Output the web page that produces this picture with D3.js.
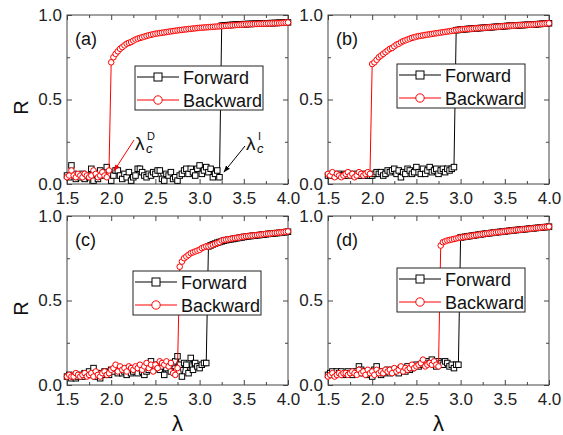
<!DOCTYPE html>
<html>
<head>
<meta charset="utf-8">
<script src="https://cdn.jsdelivr.net/npm/d3@7"></script>
<style>
  body { margin: 0; background: #fff; }
  text { font-family: "Liberation Sans", Arial, sans-serif; }
</style>
</head>
<body>
<div id="vis"></div>
<script>
//sweep of the control parameter lambda (1.5 -> 4.0, 101 samples)
const LAMBDA = d3.range(101).map(i => +(1.5 + 0.025 * i).toFixed(3));

const X_TICKS = [1.5, 2.0, 2.5, 3.0, 3.5, 4.0];
const X_MINOR = [1.75, 2.25, 2.75, 3.25, 3.75];
const Y_TICKS = [0.0, 0.5, 1.0];
const Y_MINOR = [0.25, 0.75];
const SERIES_NAMES = ["Forward", "Backward"];
const PANEL_LABELS = ["(a)", "(b)", "(c)", "(d)"];

//panel (a)
const FWD_A = [0.05,0.04,0.11,0.06,0.03,0.05,0.04,0.06,0.03,0.05,
  0.04,0.09,0.02,0.06,0.03,0.08,0.05,0.07,0.10,0.06,
  0.02,0.05,0.08,0.08,0.05,0.03,0.06,0.04,0.07,0.02,
  0.04,0.05,0.09,0.09,0.07,0.05,0.04,0.06,0.05,0.07,
  0.06,0.08,0.08,0.03,0.02,0.06,0.05,0.07,0.03,0.04,
  0.02,0.05,0.06,0.08,0.09,0.06,0.09,0.07,0.05,0.09,
  0.11,0.06,0.08,0.10,0.07,0.09,0.04,0.06,0.08,0.04,
  0.937,0.938,0.939,0.940,0.941,0.942,0.943,0.944,0.945,0.945,
  0.946,0.946,0.947,0.947,0.948,0.948,0.949,0.949,0.950,0.950,
  0.951,0.951,0.952,0.952,0.953,0.953,0.954,0.954,0.955,0.955,0.956];
const BWD_A = [0.04,0.05,0.08,0.05,0.04,0.06,0.05,0.04,0.06,0.05,
  0.04,0.05,0.08,0.06,0.04,0.05,0.07,0.05,0.04,0.08,
  0.72,0.75,0.77,0.785,0.80,0.81,0.82,0.83,0.835,0.84,
  0.848,0.855,0.86,0.864,0.868,0.872,0.876,0.88,0.883,0.886,
  0.889,0.891,0.893,0.895,0.897,0.899,0.901,0.903,0.905,0.907,
  0.909,0.911,0.912,0.914,0.915,0.917,0.918,0.920,0.921,0.923,
  0.924,0.925,0.926,0.927,0.928,0.929,0.930,0.931,0.932,0.933,
  0.934,0.935,0.936,0.937,0.938,0.939,0.940,0.941,0.942,0.943,
  0.944,0.945,0.945,0.946,0.946,0.947,0.947,0.948,0.948,0.949,
  0.949,0.950,0.950,0.951,0.951,0.952,0.952,0.953,0.954,0.955,0.956];

//panel (b)
const FWD_B = [0.05,0.05,0.06,0.05,0.05,0.06,0.05,0.05,0.06,0.05,
  0.06,0.05,0.05,0.06,0.05,0.05,0.06,0.05,0.05,0.05,
  0.05,0.06,0.07,0.06,0.07,0.05,0.06,0.08,0.07,0.08,
  0.09,0.06,0.08,0.04,0.07,0.06,0.09,0.08,0.06,0.07,
  0.10,0.07,0.06,0.09,0.06,0.08,0.10,0.07,0.08,0.09,
  0.06,0.08,0.09,0.07,0.09,0.08,0.09,0.10,
  0.910,0.912,0.914,0.915,0.916,0.917,0.918,0.919,0.920,0.921,
  0.922,0.923,0.924,0.925,0.926,0.927,0.928,0.929,0.930,0.931,
  0.932,0.933,0.934,0.935,0.936,0.937,0.937,0.938,0.939,0.940,
  0.940,0.941,0.942,0.943,0.943,0.944,0.945,0.946,0.947,0.948,
  0.949,0.950,0.951];
const BWD_B = [0.06,0.05,0.07,0.04,0.06,0.05,0.04,0.05,0.06,0.07,
  0.05,0.06,0.04,0.05,0.07,0.06,0.05,0.06,0.07,0.06,
  0.71,0.72,0.735,0.75,0.76,0.77,0.78,0.79,0.80,0.805,
  0.815,0.825,0.83,0.838,0.845,0.85,0.855,0.86,0.865,0.868,
  0.872,0.875,0.877,0.879,0.882,0.884,0.886,0.888,0.890,0.892,
  0.894,0.896,0.898,0.900,0.902,0.904,0.906,0.908,0.910,0.912,
  0.914,0.915,0.916,0.917,0.918,0.919,0.920,0.921,0.922,0.923,
  0.924,0.925,0.926,0.927,0.928,0.929,0.930,0.931,0.932,0.933,
  0.934,0.935,0.936,0.937,0.937,0.938,0.939,0.940,0.940,0.941,
  0.942,0.943,0.943,0.944,0.945,0.946,0.947,0.948,0.949,0.950,0.951];

//panel (c)
const FWD_C = [0.05,0.06,0.04,0.05,0.04,0.05,0.06,0.05,0.07,0.06,
  0.08,0.06,0.10,0.05,0.07,0.04,0.06,0.08,0.07,0.06,
  0.09,0.08,0.10,0.07,0.09,0.07,0.08,0.06,0.10,0.07,
  0.08,0.09,0.07,0.10,0.08,0.06,0.08,0.09,0.14,0.11,
  0.10,0.12,0.09,0.11,0.06,0.10,0.12,0.08,0.13,0.14,
  0.17,0.12,0.05,0.13,0.12,0.07,0.16,0.09,0.13,0.11,
  0.10,0.12,0.13,0.13,
  0.820,0.826,0.832,0.837,0.842,0.846,0.850,0.854,0.857,0.860,
  0.862,0.864,0.867,0.869,0.871,0.873,0.876,0.878,0.880,0.881,
  0.883,0.884,0.886,0.887,0.889,0.890,0.892,0.894,0.895,0.896,
  0.898,0.899,0.900,0.902,0.903,0.905,0.907];
const BWD_C = [0.05,0.06,0.05,0.05,0.07,0.06,0.05,0.06,0.07,0.05,
  0.06,0.07,0.05,0.08,0.06,0.05,0.07,0.08,0.06,0.07,
  0.09,0.10,0.12,0.08,0.11,0.09,0.10,0.08,0.11,0.10,
  0.09,0.11,0.10,0.12,0.09,0.11,0.13,0.10,0.12,0.08,
  0.12,0.10,0.14,0.13,0.12,0.14,0.11,0.13,0.07,0.06,
  0.10,
  0.70,0.73,0.75,0.76,0.77,0.78,0.785,0.79,0.795,0.80,
  0.81,0.815,0.82,0.82,0.825,0.83,0.835,0.84,0.845,0.855,
  0.858,0.860,0.862,0.864,0.867,0.869,0.871,0.873,0.876,0.878,
  0.880,0.881,0.883,0.884,0.886,0.887,0.889,0.890,0.892,0.894,
  0.895,0.896,0.898,0.899,0.900,0.902,0.903,0.905,0.907,0.909];

//panel (d)
const FWD_D = [0.06,0.07,0.08,0.06,0.08,0.07,0.08,0.06,0.07,0.08,
  0.07,0.06,0.08,0.07,0.11,0.09,0.07,0.08,0.06,0.07,
  0.05,0.09,0.11,0.08,0.06,0.07,0.08,0.09,0.07,0.08,
  0.09,0.08,0.07,0.10,0.09,0.08,0.11,0.09,0.10,0.11,
  0.12,0.11,0.12,0.13,0.12,0.14,0.13,0.15,0.12,0.11,
  0.14,0.13,0.12,0.14,0.13,0.11,0.12,0.10,0.12,0.12,
  0.873,0.875,0.877,0.879,0.881,0.883,0.885,0.887,0.889,0.891,
  0.893,0.895,0.897,0.898,0.900,0.902,0.903,0.905,0.906,0.908,
  0.909,0.911,0.912,0.914,0.915,0.917,0.918,0.919,0.921,0.922,
  0.923,0.925,0.926,0.927,0.929,0.930,0.931,0.933,0.934,0.935,0.937];
const BWD_D = [0.05,0.06,0.07,0.05,0.06,0.07,0.06,0.07,0.07,0.06,
  0.07,0.08,0.07,0.06,0.09,0.07,0.08,0.06,0.09,0.07,
  0.08,0.06,0.09,0.07,0.08,0.07,0.09,0.08,0.09,0.07,
  0.10,0.08,0.09,0.11,0.08,0.10,0.09,0.10,0.12,0.10,
  0.11,0.12,0.13,0.15,0.11,0.12,0.13,0.12,0.14,0.12,
  0.11,
  0.825,0.845,0.850,0.855,0.858,0.861,0.864,0.867,0.870,0.873,
  0.875,0.877,0.879,0.881,0.883,0.885,0.887,0.889,0.891,0.893,
  0.895,0.897,0.898,0.900,0.902,0.903,0.905,0.906,0.908,0.909,
  0.911,0.912,0.914,0.915,0.917,0.918,0.919,0.921,0.922,0.923,
  0.925,0.926,0.927,0.929,0.930,0.931,0.933,0.934,0.935,0.937];

//layout
const FRAME_WIDTH = 563;
const FRAME_HEIGHT = 435;
const VIS_WIDTH = 221;
const VIS_HEIGHT = 169;
const COL_X = [67, 328];
const ROW_Y = [15, 216];

const PANELS = [
  {label: PANEL_LABELS[0], fwd: FWD_A, bwd: BWD_A, col: 0, row: 0, legX: 68, legY: 51},
  {label: PANEL_LABELS[1], fwd: FWD_B, bwd: BWD_B, col: 1, row: 0, legX: 69, legY: 49},
  {label: PANEL_LABELS[2], fwd: FWD_C, bwd: BWD_C, col: 0, row: 1, legX: 66, legY: 55},
  {label: PANEL_LABELS[3], fwd: FWD_D, bwd: BWD_D, col: 1, row: 1, legX: 69, legY: 52}
];

const AXIS_COLOR = "#444";
const RED = "#ff0000";

const X_SCALE = d3.scaleLinear().domain([1.5, 4.0]).range([0, VIS_WIDTH]);
const Y_SCALE = d3.scaleLinear().domain([0, 1]).range([VIS_HEIGHT, 0]);

const svg = d3.select("#vis").append("svg")
  .attr("width", FRAME_WIDTH)
  .attr("height", FRAME_HEIGHT);

const defs = svg.append("defs");
[["arrRed", RED], ["arrBlack", "#000"]].forEach(([id, c]) => {
  defs.append("marker")
    .attr("id", id)
    .attr("viewBox", "0 0 10 10")
    .attr("refX", 9).attr("refY", 5)
    .attr("markerWidth", 7).attr("markerHeight", 7)
    .attr("orient", "auto")
    .append("path").attr("d", "M0,1.5L10,5L0,8.5Z").attr("fill", c);
});

const line = d3.line().x(d => X_SCALE(d[0])).y(d => Y_SCALE(d[1]));

function styleAxis(g) {
  g.select(".domain").remove();
  g.selectAll(".tick line").attr("stroke", AXIS_COLOR);
  g.selectAll("text").attr("font-size", "17px").attr("fill", "#222")
    .attr("font-family", "'Liberation Sans', Arial, sans-serif");
}

function drawSquare(sel, size, color) {
  sel.append("rect")
    .attr("x", -size / 2).attr("y", -size / 2)
    .attr("width", size).attr("height", size)
    .attr("fill", "#fff").attr("stroke", color).attr("stroke-width", 1);
}

function drawCircle(sel, r, color) {
  sel.append("circle").attr("r", r)
    .attr("fill", "#fff").attr("stroke", color).attr("stroke-width", 1);
}

PANELS.forEach(p => {
  const ox = COL_X[p.col], oy = ROW_Y[p.row];
  const g = svg.append("g").attr("transform", `translate(${ox},${oy})`);

  //frame
  g.append("rect").attr("width", VIS_WIDTH).attr("height", VIS_HEIGHT)
    .attr("fill", "none").attr("stroke", AXIS_COLOR).attr("stroke-width", 1);

  //bottom axis with labels, inward ticks
  g.append("g").attr("transform", `translate(0,${VIS_HEIGHT})`)
    .call(d3.axisBottom(X_SCALE).tickValues(X_TICKS).tickFormat(d3.format(".1f"))
      .tickSize(-5).tickSizeOuter(0).tickPadding(8))
    .call(styleAxis);
  g.append("g").attr("transform", `translate(0,${VIS_HEIGHT})`)
    .call(d3.axisBottom(X_SCALE).tickValues(X_MINOR).tickFormat("").tickSize(-3).tickSizeOuter(0))
    .call(styleAxis);
  //top axis, ticks only
  g.append("g")
    .call(d3.axisTop(X_SCALE).tickValues(X_TICKS).tickFormat("").tickSize(-5).tickSizeOuter(0))
    .call(styleAxis);
  g.append("g")
    .call(d3.axisTop(X_SCALE).tickValues(X_MINOR).tickFormat("").tickSize(-3).tickSizeOuter(0))
    .call(styleAxis);
  //left axis
  g.append("g")
    .call(d3.axisLeft(Y_SCALE).tickValues(Y_TICKS).tickFormat(d3.format(".1f"))
      .tickSize(-5).tickSizeOuter(0).tickPadding(5))
    .call(styleAxis);
  g.append("g")
    .call(d3.axisLeft(Y_SCALE).tickValues(Y_MINOR).tickFormat("").tickSize(-3).tickSizeOuter(0))
    .call(styleAxis);
  //right axis, ticks only
  g.append("g").attr("transform", `translate(${VIS_WIDTH},0)`)
    .call(d3.axisRight(Y_SCALE).tickValues(Y_TICKS).tickFormat("").tickSize(-5).tickSizeOuter(0))
    .call(styleAxis);
  g.append("g").attr("transform", `translate(${VIS_WIDTH},0)`)
    .call(d3.axisRight(Y_SCALE).tickValues(Y_MINOR).tickFormat("").tickSize(-3).tickSizeOuter(0))
    .call(styleAxis);

  const fwdPts = p.fwd.map((v, i) => [LAMBDA[i], v]);
  const bwdPts = p.bwd.map((v, i) => [LAMBDA[i], v]);

  //forward sweep
  g.append("path").datum(fwdPts).attr("d", line)
    .attr("fill", "none").attr("stroke", "#000").attr("stroke-width", 1);
  g.append("g").selectAll("g").data(fwdPts).join("g")
    .attr("transform", d => `translate(${X_SCALE(d[0])},${Y_SCALE(d[1])})`)
    .each(function () { drawSquare(d3.select(this), 5.5, "#000"); });

  //backward sweep
  g.append("path").datum(bwdPts).attr("d", line)
    .attr("fill", "none").attr("stroke", RED).attr("stroke-width", 1);
  g.append("g").selectAll("g").data(bwdPts).join("g")
    .attr("transform", d => `translate(${X_SCALE(d[0])},${Y_SCALE(d[1])})`)
    .each(function () { drawCircle(d3.select(this), 2.8, RED); });

  //panel label
  g.append("text").attr("x", 8).attr("y", 30)
    .attr("font-size", "18px").attr("fill", "#111").text(p.label);

  //legend
  const leg = g.append("g").attr("transform", `translate(${p.legX},${p.legY})`);
  leg.append("rect").attr("width", 128).attr("height", 44)
    .attr("fill", "#fff").attr("stroke", "#222").attr("stroke-width", 1);
  SERIES_NAMES.forEach((name, k) => {
    const cy = 11 + k * 23;
    const color = k === 0 ? "#000" : RED;
    leg.append("line").attr("x1", 2).attr("x2", 44).attr("y1", cy).attr("y2", cy)
      .attr("stroke", color).attr("stroke-width", 1);
    const m = leg.append("g").attr("transform", `translate(23,${cy})`);
    if (k === 0) drawSquare(m, 8, color); else drawCircle(m, 4.2, color);
    leg.append("text").attr("x", 48).attr("y", cy + 6.5)
      .attr("font-size", "18px").attr("fill", "#111").text(name);
  });

  //axis titles
  if (p.col === 0) {
    svg.append("text")
      .attr("transform", `translate(${ox - 39},${oy + VIS_HEIGHT / 2 + 8}) rotate(-90)`)
      .attr("text-anchor", "middle").attr("font-size", "20px").attr("fill", "#111").text("R");
  }
  if (p.row === 1) {
    svg.append("text").attr("x", ox + VIS_WIDTH / 2).attr("y", oy + VIS_HEIGHT + 46)
      .attr("text-anchor", "middle").attr("font-size", "22px")
      .attr("font-family", "'Liberation Serif', 'Times New Roman', serif")
      .attr("fill", "#111").text("λ");
  }
});

//critical point annotations in panel (a)
function critLabel(x, y, sup, color, x1, y1, x2, y2, markerId) {
  const serif = "'Liberation Serif', 'Times New Roman', serif";
  svg.append("text").attr("x", x).attr("y", y).attr("font-size", "19px")
    .attr("font-family", serif).attr("fill", "#111").text("λ");
  svg.append("text").attr("x", x + 11).attr("y", y + 3).attr("font-size", "13px")
    .attr("font-style", "italic").attr("font-family", serif).attr("fill", "#111").text("c");
  svg.append("text").attr("x", x + 12).attr("y", y - 10).attr("font-size", "11px")
    .attr("font-family", serif).attr("fill", "#111").text(sup);
  svg.append("line").attr("x1", x1).attr("y1", y1).attr("x2", x2).attr("y2", y2)
    .attr("stroke", color).attr("stroke-width", 1).attr("marker-end", `url(#${markerId})`);
}
critLabel(135, 150, "D", RED, 134, 140, 114, 171, "arrRed");
critLabel(246, 150, "I", "#000", 245, 146, 224, 172, "arrBlack");
</script>
</body>
</html>
